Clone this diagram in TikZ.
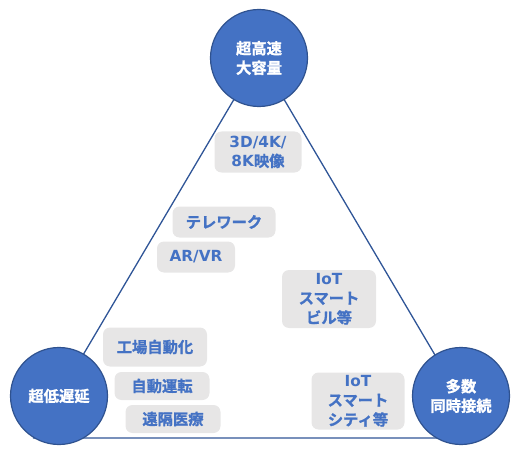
\documentclass[tikz,border=0pt]{standalone}
\usepackage{fontspec}
\setmainfont{Noto Sans CJK JP}[BoldFont={* Bold}, BoldFeatures={FakeBold=1.2}]
\newfontfamily\latinfont{DejaVu Sans}
\usetikzlibrary{calc}
\definecolor{kpiblue}{HTML}{4472C4}
\definecolor{kpiedge}{HTML}{2F528F}
\definecolor{kpiline}{HTML}{2F5597}
\definecolor{usebg}{HTML}{E7E6E6}

\begin{document}
\begin{tikzpicture}[
  x=1pt, y=-1pt,
  font=\bfseries\fontsize{15.3}{19.5}\selectfont,
  kpicircle/.style={
    circle,
    draw=kpiedge,
    fill=kpiblue,
    line width=1.2pt,
    minimum size=97pt,
    inner sep=0pt,
    text=white,
    align=center
  },
  usebox/.style={
    fill=usebg,
    rounded corners=7pt,
    inner sep=0pt,
    text=kpiblue,
    align=center
  }
]
  \useasboundingbox (0,0) rectangle (520,460);

  % Triangle behind the three requirement circles
  \coordinate (apex) at (259,57);
  \coordinate (lowleft) at (34,438);
  \coordinate (lowright) at (484,438);
  \draw[kpiline, line width=1.3pt] (apex) -- (lowleft) -- (lowright) -- cycle;

  % Requirement circles
  \node[kpicircle] (embb) at (259,58) {超高速\\大容量};
  \node[kpicircle] (urllc) at (59,396) {超低遅延};
  \node[kpicircle] (mmtc) at (461,396) {多数\\同時接続};

  % Use cases
  \node[usebox, minimum width=87pt, minimum height=41pt] (video) at (258,152) {{\latinfont 3D/4K/}\\{\latinfont 8K}映像};
  \node[usebox, minimum width=103pt, minimum height=31pt] (telework) at (224,222) {テレワーク};
  \node[usebox, minimum width=78pt, minimum height=31pt] (arvr) at (196,257) {\latinfont AR/VR};
  \node[usebox, minimum width=94pt, minimum height=58pt] (building) at (329,299) {{\latinfont IoT}\\スマート\\ビル等};
  \node[usebox, minimum width=104pt, minimum height=39pt] (factory) at (155,347) {工場自動化};
  \node[usebox, minimum width=95pt, minimum height=28pt] (driving) at (162,386) {自動運転};
  \node[usebox, minimum width=95pt, minimum height=28pt] (medical) at (173,419) {遠隔医療};
  \node[usebox, minimum width=93pt, minimum height=57pt] (city) at (358,401) {{\latinfont IoT}\\スマート\\シティ等};

\end{tikzpicture}
\end{document}
